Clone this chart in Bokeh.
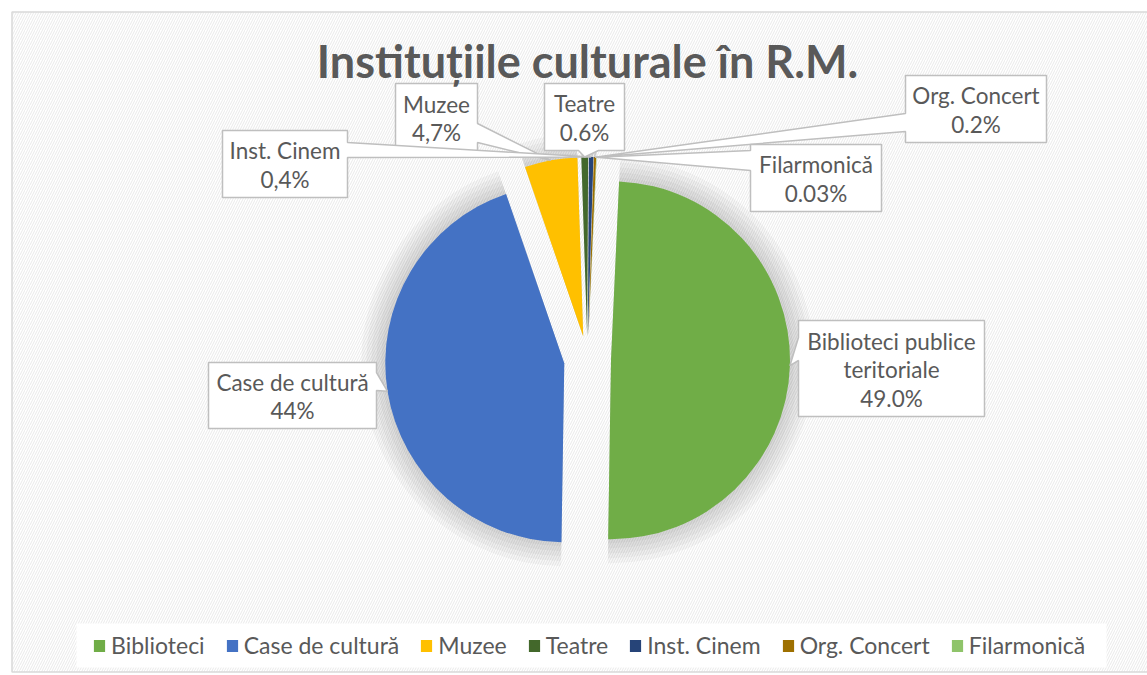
import numpy as np
from bokeh.plotting import figure
from bokeh.models import ColumnDataSource, Range1d, Legend, LegendItem
from bokeh.embed import file_html
from bokeh.resources import INLINE
from bokeh.core.properties import value

# ---------------- data ----------------
title = "Instituțiile culturale în R.M."
categories = ["Biblioteci", "Case de cultură", "Muzee", "Teatre",
              "Inst. Cinem", "Org. Concert", "Filarmonică"]
values = [49.0, 44.0, 4.7, 0.6, 0.4, 0.2, 0.03]
label_names = ["Biblioteci publice\nteritoriale", "Case de cultură", "Muzee",
               "Teatre", "Inst. Cinem", "Org. Concert", "Filarmonică"]
label_values = ["49.0%", "44%", "4,7%", "0.6%", "0,4%", "0.2%", "0.03%"]
colors = ["#70ad47", "#4472c4", "#ffc000", "#43682b",
          "#264478", "#9e7000", "#8fc46a"]

# ---------------- layout (reference pixel space, y downward) ----------------
CX, CY = 587.0, 359.0      # pie centre
R = 179.0                   # pie radius
EXPLODE = 23.5              # explosion distance
START = 2.6                 # first slice angle (deg, clockwise from top)
TXT = "#595959"
FONT = "Lato"

# callout boxes: (left, top, right, bottom), side of pointer, base1, base2
callouts = [
    ((798, 320, 984, 416), "left", 337, 360),
    ((208, 362, 376, 428), "right", 372, 390),
    ((395, 83, 477, 151), "right", 123, 142),
    ((544, 83, 624, 150), "bottom", 578, 598),
    ((222, 130, 347, 197), "right", 142, 157),
    ((905, 75, 1046, 142), "left", 113, 131),
    ((750, 144, 881, 211), "left", 150, 170),
]
draw_order = [0, 1, 2, 4, 3, 5, 6]
LINE_GAP = 28.5

W, H = 1147, 675
p = figure(width=W, height=H, x_range=Range1d(0, W), y_range=Range1d(-H, 0),
           x_axis_type=None, y_axis_type=None, toolbar_location=None,
           output_backend="svg", min_border=0, outline_line_color=None,
           background_fill_color="white", border_fill_color="white")

# chart area with light texture and border
p.quad(left=[11.5], right=[1160], top=[-11.5], bottom=[-671.5],
       fill_color="white", hatch_pattern="/", hatch_color="#cfcfcf",
       hatch_alpha=0.45, hatch_scale=5, hatch_weight=1,
       line_color="#d9d9d9", line_width=1.5)
# legend area (plain white)
p.quad(left=[76], right=[1106], top=[-623], bottom=[-667],
       fill_color="white", line_color=None)

# ---------------- pie geometry ----------------
vals = np.array(values, dtype=float)
frac = vals / vals.sum()
a_end = START + np.cumsum(frac) * 360.0
a_start = a_end - frac * 360.0
mid = np.radians((a_start + a_end) / 2.0)
cx = CX + EXPLODE * np.sin(mid)
cy = CY - EXPLODE * np.cos(mid)

src = ColumnDataSource(dict(
    x=cx, y=-cy,
    start=np.radians(90.0 - a_start),
    end=np.radians(90.0 - a_end),
    color=colors, cat=categories,
))

# soft shadow
for k in (4, 9, 14, 19, 24):
    p.wedge(x="x", y="y", radius=R + k, radius_units="screen",
            start_angle="start", end_angle="end", direction="clock",
            fill_color="black", fill_alpha=0.03, line_color=None, source=src)

pie = p.wedge(x="x", y="y", radius=R, radius_units="screen",
              start_angle="start", end_angle="end", direction="clock",
              fill_color="color", line_color=None, source=src)

# ---------------- callouts ----------------
tip_x = cx + R * np.sin(mid)
tip_y = cy - R * np.cos(mid)

xs, ys = [], []
for i in draw_order:
    (l, t, r, b), side, b1, b2 = callouts[i]
    tx, ty = tip_x[i], tip_y[i]
    if side == "left":
        pts = [(l, t), (r, t), (r, b), (l, b), (l, b2), (tx, ty), (l, b1)]
    elif side == "right":
        pts = [(l, t), (r, t), (r, b1), (tx, ty), (r, b2), (r, b), (l, b)]
    else:  # bottom
        pts = [(l, t), (r, t), (r, b), (b2, b), (tx, ty), (b1, b), (l, b)]
    xs.append([q[0] for q in pts])
    ys.append([-q[1] for q in pts])
p.patches(xs, ys, fill_color="white", line_color="#bfbfbf", line_width=1.5)

tx_, ty_, tt_ = [], [], []
for i in range(len(categories)):
    (l, t, r, b), side, b1, b2 = callouts[i]
    lines = label_names[i].split("\n") + [label_values[i]]
    n = len(lines)
    ccx = (l + r) / 2.0
    ccy = (t + b) / 2.0 + 1.0
    for j, s in enumerate(lines):
        tx_.append(ccx)
        ty_.append(-(ccy + (j - (n - 1) / 2.0) * LINE_GAP))
        tt_.append(s)
p.text(x=tx_, y=ty_, text=tt_, text_font=value(FONT), text_font_size="22.5px",
       text_color=TXT, text_align="center", text_baseline="middle")

# ---------------- title ----------------
p.text(x=[587], y=[-60], text=[title], text_font=value(FONT),
       text_font_style="bold", text_font_size="45px", text_color=TXT,
       text_align="center", text_baseline="middle")

# ---------------- legend ----------------
items = [LegendItem(label=c, renderers=[pie], index=i) for i, c in enumerate(categories)]
legend = Legend(items=items, orientation="horizontal", location=(92, 16),
                glyph_width=14, glyph_height=15, label_standoff=5, spacing=20,
                padding=0, margin=0, label_text_font=FONT,
                label_text_font_size="23px", label_text_color=TXT,
                background_fill_alpha=0, border_line_alpha=0)
p.add_layout(legend)

open("out.html", "w").write(file_html(p, INLINE))
